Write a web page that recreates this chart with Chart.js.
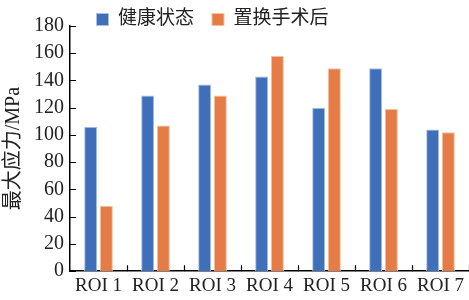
<!DOCTYPE html>
<html>
<head>
<meta charset="utf-8">
<script src="https://cdn.jsdelivr.net/npm/chart.js@4/dist/chart.umd.min.js"></script>
<style>
  html, body { margin: 0; padding: 0; background: #fff; }
  #wrap { width: 469px; height: 300px; }
</style>
</head>
<body>
<div id="wrap"><canvas id="chart"></canvas></div>
<script>
const categories = ["ROI 1", "ROI 2", "ROI 3", "ROI 4", "ROI 5", "ROI 6", "ROI 7"];
const healthy = [106, 129, 137, 143, 120, 149, 104];
const afterSurgery = [48, 107, 129, 158, 149, 119, 102];
const seriesNames = ["健康状态", "置换手术后"];
const yTitle = "最大应力/MPa";

const serif = "'Liberation Serif', 'Noto Sans CJK SC', serif";

// ticks pointing into the plot, like the original figure
const innerTicks = {
    id: "innerTicks",
    afterDraw(chart) {
        const ctx = chart.ctx;
        const x = chart.scales.x;
        const y = chart.scales.y;
        ctx.save();
        ctx.strokeStyle = "#000";
        ctx.lineWidth = 1.2;
        ctx.beginPath();
        y.ticks.forEach(t => {
            const py = Math.round(y.getPixelForValue(t.value)) + 0.5;
            ctx.moveTo(x.left, py);
            ctx.lineTo(x.left + 6, py);
        });
        for (let i = 1; i <= categories.length; i++) {
            const px = Math.round((x.getPixelForValue(i - 1) + x.getPixelForValue(i)) / 2) + 0.5;
            ctx.moveTo(px, y.bottom);
            ctx.lineTo(px, y.bottom - 6);
        }
        ctx.stroke();
        ctx.restore();
    }
};

// move the legend to where it sat in the figure
const legendShift = {
    id: "legendShift",
    afterLayout(chart) {
        const lg = chart.legend;
        lg.left -= 23;
        lg.right -= 23;
        lg.top += 13;
        lg.bottom += 13;
    }
};

new Chart(document.getElementById("chart"), {
    type: "bar",
    data: {
        labels: categories,
        datasets: [
            {
                label: seriesNames[0],
                data: healthy,
                backgroundColor: "#3F6FB9",
                borderColor: "#a9c0e3",
                borderWidth: 1
            },
            {
                label: seriesNames[1],
                data: afterSurgery,
                backgroundColor: "#E57B45",
                borderColor: "#f4bf9f",
                borderWidth: 1
            }
        ]
    },
    options: {
        responsive: true,
        maintainAspectRatio: false,
        animation: false,
        layout: { padding: { left: 2, right: 0, top: -21, bottom: 0 } },
        datasets: {
            bar: { categoryPercentage: 0.55, barPercentage: 0.83 }
        },
        plugins: {
            legend: {
                position: "top",
                labels: {
                    boxWidth: 12,
                    boxHeight: 12,
                    padding: 18,
                    color: "#222",
                    font: { family: serif, size: 19 }
                }
            },
            tooltip: { enabled: false }
        },
        scales: {
            x: {
                grid: { display: false, drawTicks: false },
                border: { color: "#000", width: 1.5 },
                ticks: {
                    color: "#222",
                    padding: 3,
                    maxRotation: 0,
                    autoSkip: false,
                    font: { family: serif, size: 19 }
                }
            },
            y: {
                min: 0,
                max: 180,
                grid: { display: false, drawTicks: false },
                border: { color: "#000", width: 1.5 },
                ticks: {
                    stepSize: 20,
                    autoSkip: false,
                    color: "#222",
                    padding: 6,
                    font: { family: serif, size: 20 }
                },
                title: {
                    display: true,
                    text: yTitle,
                    color: "#222",
                    padding: { top: 0, bottom: 2 },
                    font: { family: serif, size: 20 }
                }
            }
        }
    },
    plugins: [innerTicks, legendShift]
});
</script>
</body>
</html>
